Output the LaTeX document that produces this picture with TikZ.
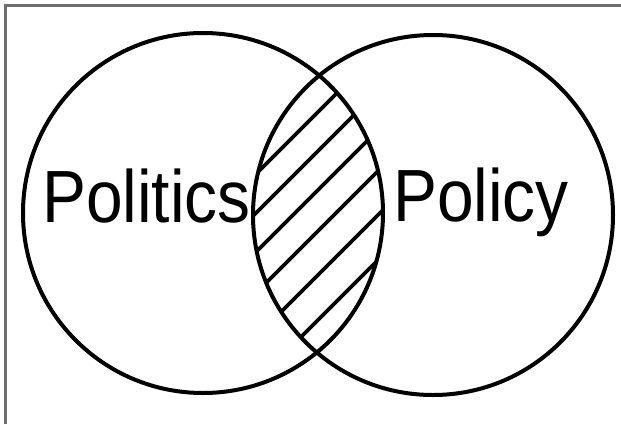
\documentclass[tikz,border=0pt]{standalone}
\usepackage{fontspec}
\newfontfamily\labfont[FakeStretch=0.89]{Liberation Sans}
\definecolor{framegray}{HTML}{6E6E6E}
\tikzset{
  setcircle/.style={draw=black, line width=4pt},
  hatchline/.style={draw=black, line width=3.6pt},
  framestroke/.style={draw=framegray, line width=2.5pt},
  setlabel/.style={inner sep=0pt, anchor=base west, font=\labfont\fontsize{74}{80}\selectfont}
}
\begin{document}
\begin{tikzpicture}[x=1pt, y=-1pt]
\useasboundingbox (0,0) rectangle (621,424);
\fill[white] (0,0) rectangle (621,424);
% frame (top and left edges only)
\coordinate (fbl) at (5.7,424);
\coordinate (ftl) at (5.7,5.7);
\coordinate (ftr) at (621,5.7);
\draw[framestroke] (fbl) -- (ftl) -- (ftr);
% hatching of the overlap
\begin{scope}
  \clip (203,213) circle[radius=180pt];
  \clip (433,215) circle[radius=180pt];
  \foreach \c in {430,469,508,549,593,638} {
    \draw[hatchline] (\c-420,420) -- (\c,0);
  }
\end{scope}
% circles
\draw[setcircle] (203,213) circle[radius=180pt];
\draw[setcircle] (433,215) circle[radius=180pt];
% labels
\node[setlabel] (politics) at (42,222) {Politics};
\node[setlabel] (policy) at (393,221) {Policy};
\end{tikzpicture}
\end{document}
